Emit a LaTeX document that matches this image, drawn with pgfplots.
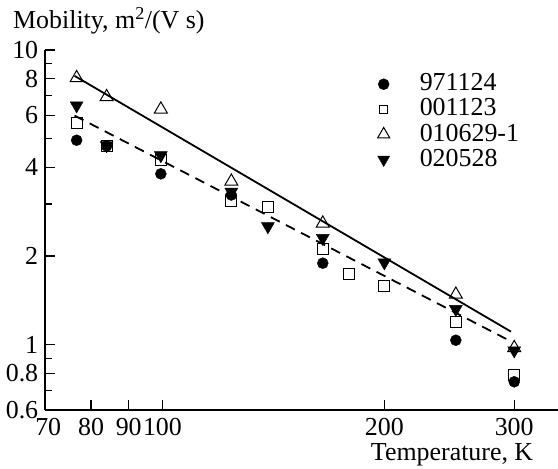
\documentclass[border=0pt]{standalone}
\usepackage{pgfplots}
\pgfplotsset{compat=1.18}
\usepackage{fontspec}
\setmainfont{Liberation Serif}
\begin{document}
\fontsize{26}{30}\selectfont
\begin{tikzpicture}
\path[use as bounding box] (-45bp,-59bp) rectangle (513bp,410bp);
\begin{axis}[
  at={(0bp,0bp)}, anchor=south west,
  scale only axis, width=513bp, height=360bp,
  xmode=log, ymode=log,
  xmin=69.3, xmax=344, ymin=0.6, ymax=10,
  axis x line*=bottom, axis y line*=left,
  axis line style={line width=1.2bp, -},
  clip=false,
  /pgf/number format/assume math mode=true,
  xtick={80,90,100,200,300}, xticklabels={80,90,100,200,300},
  extra x ticks={70}, extra x tick labels={70},
  extra x tick style={major tick length=0pt},
  ytick={0.6,0.8,1,2,4,6,8,10}, yticklabels={0.6,0.8,1,2,4,6,8,10},
  minor ytick={0.7,0.9,3,5,7,9}, minor xtick={},
  tick align=inside, major tick length=10bp, minor tick length=7bp,
  tick style={line width=1.2bp, black},
  xticklabel style={yshift=1bp},
  yticklabel style={xshift=2bp},
  legend cell align=left,
  legend style={draw=none, fill=none, at={(axis description cs:0.648,0.9347)}, anchor=north west,
    font=\fontsize{26}{30}\selectfont, row sep=4bp, column sep=30bp, nodes={inner sep=0pt}, inner sep=0pt},
]
\addplot[black, line width=1.8bp, forget plot] coordinates {(76,8.17) (297,1.107)};
\addplot[black, line width=1.8bp, dash pattern=on 10bp off 7bp, forget plot] coordinates {(76,5.99) (296,1.03)};
% 001123 squares
\addplot[only marks, mark=square, mark size=5.5bp, mark options={fill=white, line width=1bp}, forget plot] coordinates {
(76.5,5.65) (84,4.72) (99.5,4.24) (124,3.08) (139,2.94) (165,2.11) (179,1.73) (200,1.58) (250,1.19) (300,0.79)};
% 010629-1 open triangles
\addplot[only marks, mark=triangle, mark size=7.5bp, mark options={fill=white, line width=1bp}, forget plot] coordinates {
(76.5,8.04) (84,6.93) (99.5,6.29) (124,3.58) (165,2.58) (250,1.48) (300,0.975)};
% 971124 circles
\addplot[only marks, mark=*, mark size=5.5bp, mark options={fill=black}, forget plot] coordinates {
(76.5,4.94) (84,4.72) (99.5,3.80) (124,3.22) (165,1.89) (250,1.035) (300,0.748)};
% 020528 filled down triangles
\addplot[only marks, mark=triangle*, mark size=7.5bp, mark options={rotate=180, fill=black}, forget plot] coordinates {
(76.5,6.48) (84,4.75) (99.5,4.39) (124,3.30) (139,2.52) (165,2.30) (200,1.90) (250,1.32) (300,0.955)};
\addlegendimage{only marks, mark=*, mark size=5.5bp, mark options={fill=black}}
\addlegendimage{only marks, mark=square, mark size=4bp, mark options={fill=white, line width=1bp}}
\addlegendimage{only marks, mark=triangle, mark size=7bp, mark options={fill=white, line width=1bp}}
\addlegendimage{only marks, mark=triangle*, mark size=7bp, mark options={rotate=180, fill=black}}
\legend{971124, 001123, 010629-1, 020528}
\node[anchor=base west, inner sep=0pt] at (axis description cs:-0.0624,1.0611) {Mobility, m\textsuperscript{2}/(V s)};
\node[anchor=base east, inner sep=0pt] at (axis description cs:0.9519,-0.1389) {Temperature, K};
\end{axis}
\end{tikzpicture}
\end{document}
